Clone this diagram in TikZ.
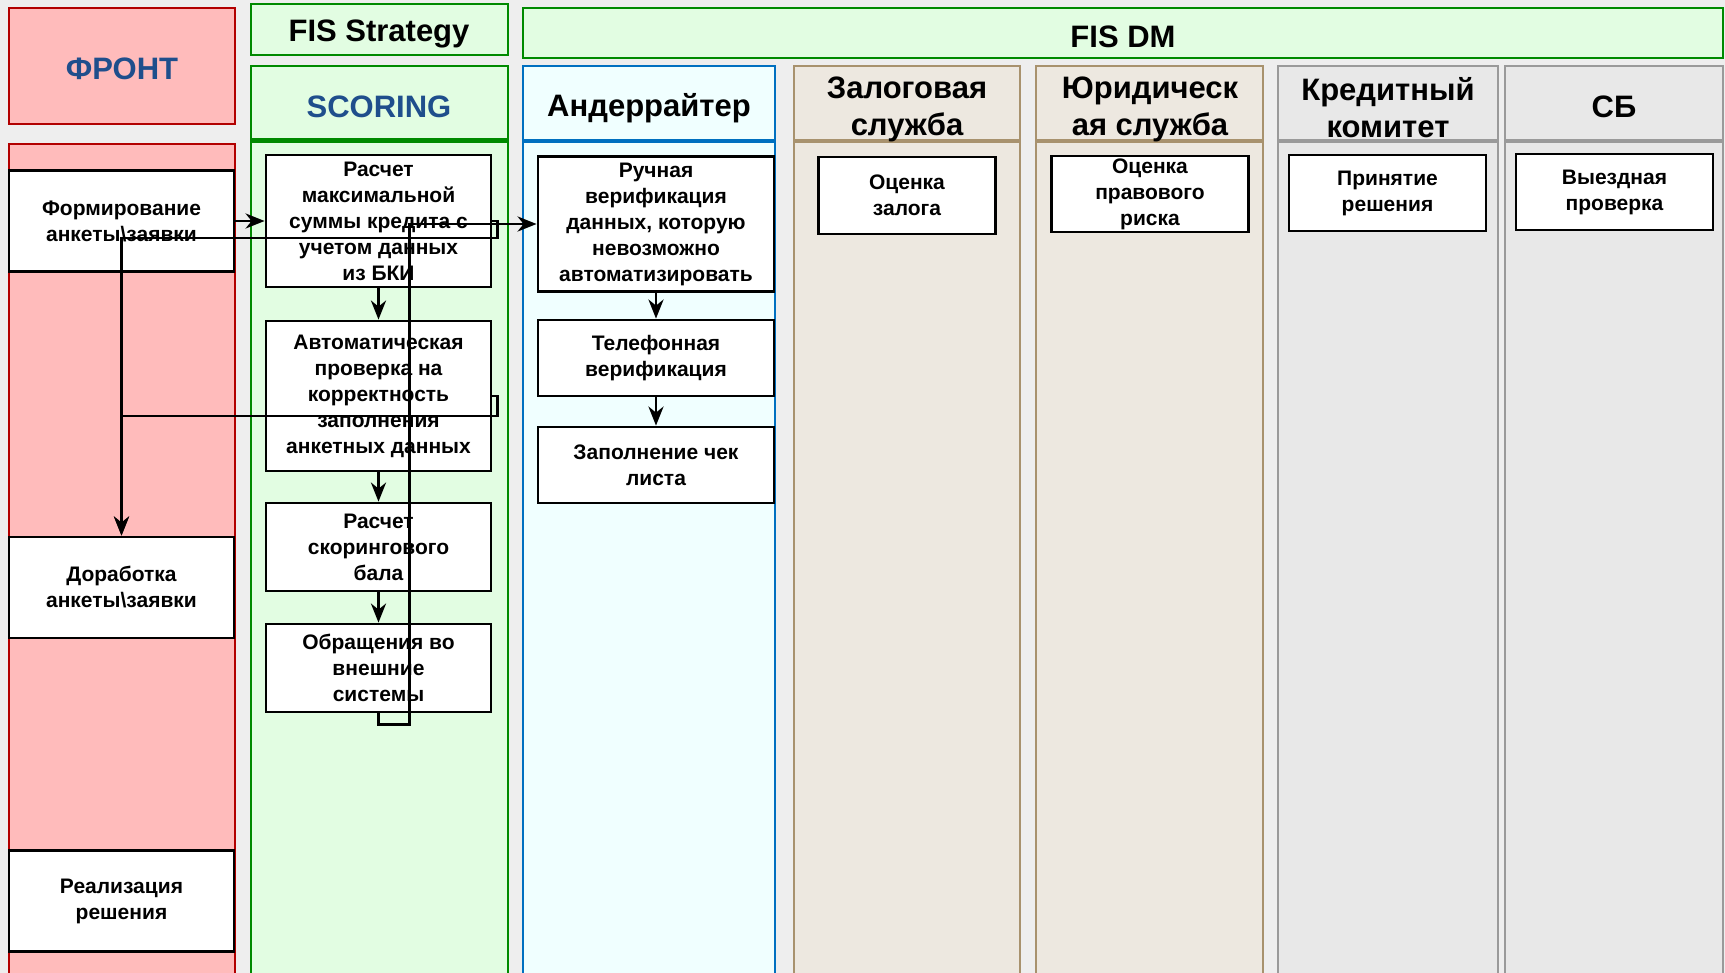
\documentclass[tikz,border=0pt]{standalone}
\usepackage{fontspec}
\setmainfont{Liberation Sans}
\usetikzlibrary{arrows.meta,positioning}

\definecolor{frontfill}{HTML}{FFBBBB}
\definecolor{frontline}{HTML}{B20000}
\definecolor{greenfill}{HTML}{E2FDE2}
\definecolor{greenline}{HTML}{008A00}
\definecolor{bluefill}{HTML}{F0FFFF}
\definecolor{blueline}{HTML}{0070C0}
\definecolor{tanfill}{HTML}{EDE8E0}
\definecolor{tanline}{HTML}{A8926E}
\definecolor{grayfill}{HTML}{E8E8E8}
\definecolor{grayline}{HTML}{9A9A9A}
\definecolor{titleblue}{HTML}{1F4E8C}
\definecolor{bgcolor}{HTML}{EEEEEE}

\tikzset{
  box/.style={draw=black, fill=white, line width=2.8pt, align=center, inner sep=0pt,
    font=\fontsize{21}{26}\selectfont\bfseries},
  lanetitle/.style={align=center, font=\fontsize{31}{37}\selectfont\bfseries},
  arr/.style={line width=2.8pt, -{Stealth[length=19pt,width=15pt,inset=6pt]}},
}

\begin{document}
\begin{tikzpicture}[x=1pt,y=-1pt]
    \useasboundingbox[fill=bgcolor] (0,0) rectangle (1725,973); % Page

    % Lanes
    \draw[frontline, fill=frontfill, line width=2.5pt] (9,8) rectangle (235,124); % FRONT header
    \draw[frontline, fill=frontfill, line width=2.5pt] (9,144) rectangle (235,995); % FRONT lane
    \draw[greenline, fill=greenfill, line width=2.5pt] (251,4) rectangle (508,55); % FIS Strategy
    \draw[greenline, fill=greenfill, line width=2.5pt] (523,8) rectangle (1723,58); % FIS DM
    \draw[greenline, fill=greenfill, line width=2.5pt] (251,66) rectangle (508,995); % SCORING
    \draw[greenline, line width=5pt] (251,141) -- (508,141);
    \draw[blueline, fill=bluefill, line width=2.5pt] (523,66) rectangle (775,995); % Underwriter
    \draw[blueline, line width=4pt] (523,141) -- (775,141);
    \draw[tanline, fill=tanfill, line width=2.5pt] (794,66) rectangle (1020,995); % Collateral
    \draw[tanline, line width=4pt] (794,141) -- (1020,141);
    \draw[tanline, fill=tanfill, line width=2.5pt] (1036,66) rectangle (1263,995); % Legal
    \draw[tanline, line width=4pt] (1036,141) -- (1263,141);
    \draw[grayline, fill=grayfill, line width=2.5pt] (1278,66) rectangle (1498,995); % Committee
    \draw[grayline, line width=4pt] (1278,141) -- (1498,141);
    \draw[grayline, fill=grayfill, line width=2.5pt] (1505,66) rectangle (1723,995); % SB
    \draw[grayline, line width=4pt] (1505,141) -- (1723,141);

    % Lane titles
    \node[lanetitle, text=titleblue] (front) at (122,69) {ФРОНТ};
    \node[lanetitle] (strategy) at (379,34) {FIS Strategy};
    \node[lanetitle, text=titleblue] (scoring) at (379,107) {SCORING};
    \node[lanetitle] (fisdm) at (1123,37) {FIS DM};
    \node[lanetitle] (under) at (649,108) {Андеррайтер};
    \node[lanetitle] (zalogsl) at (907,109) {Залоговая\\служба};
    \node[lanetitle] (yursl) at (1150,109) {Юридическ\\ая служба};
    \node[lanetitle] (komitet) at (1388,108) {Кредитный\\комитет};
    \node[lanetitle] (sb) at (1614,107) {СБ};

    % Steps
    \node[box, minimum width=225pt, minimum height=101pt] (form) at (121.5,221) {Формирование\\анкеты\textbackslash заявки};
    \node[box, minimum width=225pt, minimum height=101pt] (dorab) at (121.5,587.5) {Доработка\\анкеты\textbackslash заявки};
    \node[box, minimum width=225pt, minimum height=101pt] (real) at (121.5,901) {Реализация\\решения};
    \node[box, minimum width=225pt, minimum height=132pt] (maxsum) at (378.5,221) {Расчет\\максимальной\\суммы кредита с\\учетом данных\\из БКИ};
    \node[box, minimum width=225pt, minimum height=150pt] (avto) at (378.5,396) {Автоматическая\\проверка на\\корректность\\заполнения\\анкетных данных};
    \node[box, minimum width=225pt, minimum height=88pt] (ball) at (378.5,547) {Расчет\\скорингового\\бала};
    \node[box, minimum width=225pt, minimum height=88pt] (ext) at (378.5,668) {Обращения во\\внешние\\системы};
    \node[box, minimum width=236pt, minimum height=135pt] (ruch) at (656,224) {Ручная\\верификация\\данных, которую\\невозможно\\автоматизировать};
    \node[box, minimum width=236pt, minimum height=76pt] (tel) at (656,358) {Телефонная\\верификация};
    \node[box, minimum width=236pt, minimum height=76pt] (check) at (656,465) {Заполнение чек\\листа};
    \node[box, minimum width=177pt, minimum height=77pt] (zalog) at (907,195.5) {Оценка\\залога};
    \node[box, minimum width=197pt, minimum height=76pt] (prav) at (1150,194) {Оценка\\правового\\риска};
    \node[box, minimum width=197pt, minimum height=76pt] (prin) at (1387.5,193) {Принятие\\решения};
    \node[box, minimum width=197pt, minimum height=76pt] (vyezd) at (1614.5,192) {Выездная\\проверка};

    % Connectors
    \draw[arr] (form.east) -- (maxsum.west);
    \draw[arr] (maxsum) -- (avto);
    \draw[arr] (avto) -- (ball);
    \draw[arr] (ball) -- (ext);
    \draw[arr] (ruch) -- (tel);
    \draw[arr] (tel) -- (check);
    \draw[arr] (ext.south) -- ++(0,11) -| ([xshift=31pt]ext.south |- ruch.west) -- (ruch.west);
    \draw[arr] (maxsum.east) -- ++(5,0) -- ++(0,17) -| (dorab.north);
    \draw[arr] (avto.east) -- ++(5,0) -- ++(0,20) -| (dorab.north);
\end{tikzpicture}
\end{document}
